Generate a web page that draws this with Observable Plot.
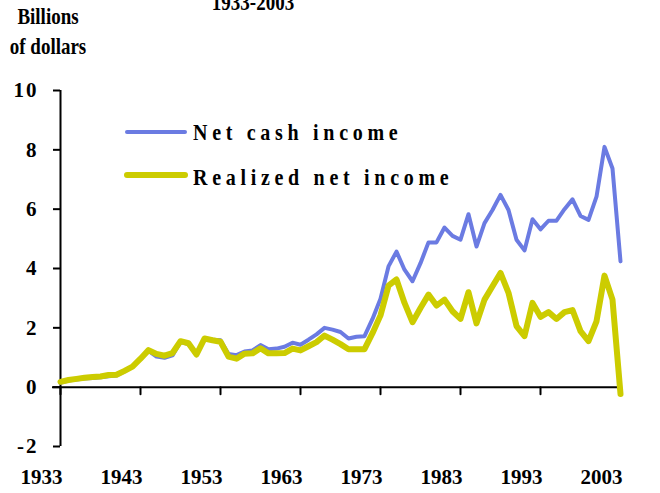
<!DOCTYPE html>
<html>
<head>
<meta charset="utf-8">
<script src="https://cdn.jsdelivr.net/npm/d3@7"></script>
<script src="https://cdn.jsdelivr.net/npm/@observablehq/plot@0.6"></script>
<style>
  html, body { margin: 0; padding: 0; background: #fff; }
  #wrap { position: relative; width: 660px; height: 493px; overflow: hidden; font-family: "Liberation Serif", "Times New Roman", serif; font-weight: bold; color: #000; }
  #wrap svg { position: absolute; left: 0; top: 0; }
  .ov { position: absolute; white-space: nowrap; font-size: 19px; line-height: 20px; transform: scaleY(1.2); transform-origin: center center; }
  #ylabel { left: 0; top: 6px; width: 96px; text-align: center; line-height: 25px; }
  #title { left: 153px; width: 200px; top: -7px; text-align: center; }
  .legline { position: absolute; border-radius: 3px; }
  .legtext { position: absolute; font-size: 20px; line-height: 20px; letter-spacing: 4.7px; transform: scaleY(1.18); transform-origin: left center; }
  g[aria-label="x-labels"] text { letter-spacing: 3px; }
  g[aria-label="y-axis tick label"] text { letter-spacing: 2px; }
</style>
</head>
<body>
<div id="wrap">
  <div id="title" class="ov"></div>
  <div id="ylabel" class="ov"></div>
  <div id="legend"></div>
</div>
<script>
const years = [1933,1934,1935,1936,1937,1938,1939,1940,1941,1942,1943,1944,1945,1946,1947,1948,1949,1950,1951,1952,1953,1954,1955,1956,1957,1958,1959,1960,1961,1962,1963,1964,1965,1966,1967,1968,1969,1970,1971,1972,1973,1974,1975,1976,1977,1978,1979,1980,1981,1982,1983,1984,1985,1986,1987,1988,1989,1990,1991,1992,1993,1994,1995,1996,1997,1998,1999,2000,2001,2002,2003];

const netCashIncome = [0.15,0.22,0.26,0.29,0.31,0.33,0.37,0.39,0.53,0.70,0.95,1.22,1.03,0.99,1.07,1.52,1.45,1.08,1.62,1.60,1.58,1.12,1.08,1.20,1.24,1.42,1.28,1.30,1.36,1.50,1.43,1.60,1.78,2.00,1.94,1.86,1.64,1.70,1.72,2.30,2.98,4.07,4.57,3.96,3.57,4.18,4.88,4.88,5.38,5.10,4.97,5.83,4.74,5.53,5.97,6.48,5.97,4.97,4.61,5.66,5.32,5.61,5.61,6.00,6.33,5.77,5.64,6.42,8.10,7.37,4.24];

const realizedNetIncome = [0.18,0.24,0.28,0.32,0.34,0.36,0.41,0.42,0.55,0.69,0.96,1.25,1.12,1.06,1.15,1.55,1.48,1.10,1.64,1.58,1.53,1.03,0.96,1.13,1.14,1.31,1.14,1.14,1.15,1.30,1.24,1.38,1.52,1.74,1.60,1.45,1.28,1.28,1.28,1.82,2.42,3.42,3.63,2.84,2.19,2.67,3.12,2.75,2.95,2.56,2.30,3.20,2.15,2.95,3.40,3.85,3.18,2.06,1.72,2.84,2.37,2.53,2.30,2.53,2.60,1.89,1.55,2.22,3.76,2.95,-0.23];

const seriesNames = ["Net cash income", "Realized net income"];
const seriesColors = ["#6b7be2", "#cccc00"];
const xTicks = [1933,1943,1953,1963,1973,1983,1993,2003];
const xTickLabels = ["1933","1943","1953","1963","1973","1983","1993","2003"];
const yTicks = [-2,0,2,4,6,8,10];
const yLabelLines = ["Billions", "of dollars"];
const titleText = "1933-2003";

const cashData = years.map((y, i) => ({year: y, value: netCashIncome[i]}));
const realData = years.map((y, i) => ({year: y, value: realizedNetIncome[i]}));
const xLabelData = xTicks.map((t, i) => ({x: t, label: xTickLabels[i]}));

const tickShape = { draw(context, l) { context.moveTo(0, 0); context.lineTo(0, -l); } };

const chart = Plot.plot({
  width: 660,
  height: 493,
  marginLeft: 60,
  marginRight: 40,
  marginTop: 90,
  marginBottom: 47,
  style: { fontFamily: "'Liberation Serif', 'Times New Roman', serif", fontWeight: "bold", fontSize: "21px", color: "#000", background: "transparent" },
  x: { domain: [1933, 2003], axis: null },
  y: { domain: [-2, 10], axis: null },
  marks: [
    Plot.axisY({ ticks: yTicks, label: null, tickSize: 7, tickPadding: 15, tickFormat: d => String(d), fontSize: 21, fontWeight: "bold", stroke: "#000", strokeWidth: 2, strokeOpacity: 1, fill: "#000" }),
    Plot.ruleX([1933], { stroke: "#000", strokeWidth: 2 }),
    Plot.ruleY([0], { stroke: "#000", strokeWidth: 2, insetLeft: -8 }),
    Plot.vector(xTicks, { x: d => d, y: 0, length: 7, rotate: 180, anchor: "start", shape: tickShape, stroke: "#000", strokeWidth: 2 }),
    Plot.text(xLabelData, { x: "x", text: "label", frameAnchor: "bottom", lineAnchor: "middle", dy: 31, dx: -19, fontSize: 21, fontWeight: "bold", fill: "#000", ariaLabel: "x-labels" }),
    Plot.line(cashData, { x: "year", y: "value", stroke: seriesColors[0], strokeWidth: 4, strokeLinejoin: "round", strokeLinecap: "round" }),
    Plot.line(realData, { x: "year", y: "value", stroke: seriesColors[1], strokeWidth: 6, strokeLinejoin: "round", strokeLinecap: "round" })
  ]
});
document.getElementById("wrap").appendChild(chart);

document.getElementById("title").textContent = titleText;
document.getElementById("ylabel").innerHTML = yLabelLines.join("<br>");

// legend
const legend = document.getElementById("legend");
const legPos = [{lineLeft: 125, lineTop: 130, w: 62, h: 4, textLeft: 193, textTop: 122},
                {lineLeft: 124, lineTop: 172, w: 64, h: 6, textLeft: 193, textTop: 167}];
seriesNames.forEach((name, i) => {
  const p = legPos[i];
  const line = document.createElement("div");
  line.className = "legline";
  line.style.cssText = `left:${p.lineLeft}px;top:${p.lineTop}px;width:${p.w}px;height:${p.h}px;background:${seriesColors[i]};`;
  legend.appendChild(line);
  const t = document.createElement("div");
  t.className = "legtext";
  t.style.cssText = `left:${p.textLeft}px;top:${p.textTop}px;`;
  t.textContent = name;
  legend.appendChild(t);
});
</script>
</body>
</html>
